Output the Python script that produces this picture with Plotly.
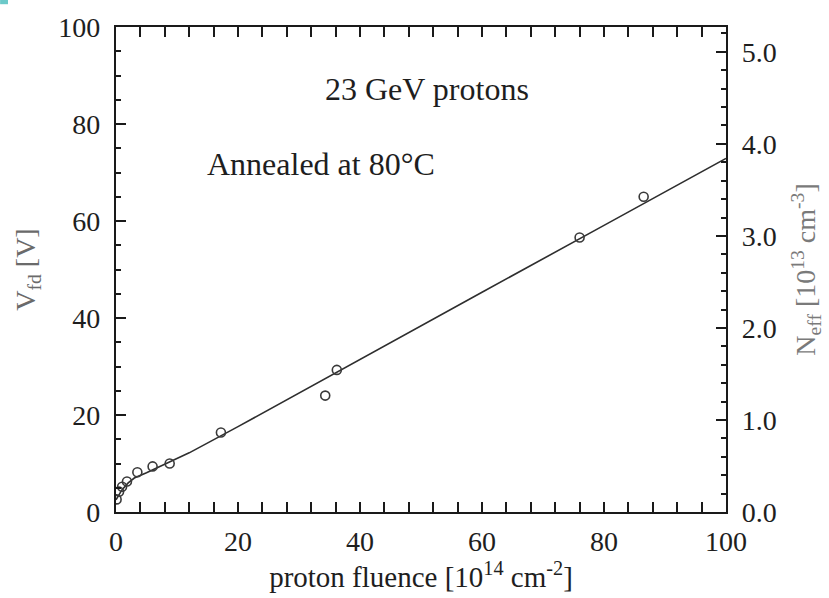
import plotly.graph_objects as go

# Measured depletion voltage vs. proton fluence
fluence = [0.1, 0.5, 1.0, 1.8, 3.5, 6.0, 8.8, 17.2, 34.3, 36.2, 76.0, 86.5]
vfd = [2.6, 4.2, 5.2, 6.3, 8.2, 9.4, 10.0, 16.4, 24.0, 29.3, 56.6, 65.0]

# Fitted curve through the measurements
fit_x = [0, 1, 2, 3, 5, 8, 12, 20, 40, 60, 80, 100]
fit_y = [2.5, 4.6, 6.0, 7.0, 8.1, 9.8, 12.2, 17.6, 31.5, 45.3, 59.1, 72.9]

# Axis ranges (left: V_fd in V, right: N_eff in 1e13 cm^-3)
x_range = [0, 100]
y_range = [0, 100]
y2_range = [0, 5.27]

FONT = "Liberation Serif"
INK = "#1e1e1e"

fig = go.Figure()

fig.add_trace(go.Scatter(
    x=fit_x, y=fit_y, mode="lines",
    line=dict(color="#2e2e2e", width=1.6),
    showlegend=False, hoverinfo="skip",
))
fig.add_trace(go.Scatter(
    x=fluence, y=vfd, mode="markers",
    marker=dict(symbol="circle-open", size=9, color="#3a3a3a",
                line=dict(width=1.6, color="#3a3a3a")),
    showlegend=False,
))
# carrier trace so the right-hand axis is laid out
fig.add_trace(go.Scatter(
    x=[None], y=[None], yaxis="y2", mode="markers",
    showlegend=False, hoverinfo="skip",
))

axis_common = dict(
    showline=True, linecolor="#1a1a1a", linewidth=2.2,
    ticks="inside", ticklen=10, tickwidth=2.2, tickcolor="#1a1a1a",
    showgrid=False, zeroline=False,
    tickfont=dict(family=FONT, size=28, color=INK),
)

fig.update_layout(
    width=829, height=598,
    margin=dict(l=116, r=103, t=27, b=86),
    paper_bgcolor="white", plot_bgcolor="white",
    xaxis=dict(
        range=x_range, dtick=20, mirror="allticks",
        minor=dict(dtick=4, ticks="inside", ticklen=5, tickwidth=2,
                   tickcolor="#1a1a1a", showgrid=False),
        title=dict(text="proton fluence [10<sup>14</sup> cm<sup>-2</sup>]",
                   font=dict(family=FONT, size=29, color=INK), standoff=4),
        ticklabelstandoff=3,
        **axis_common,
    ),
    yaxis=dict(
        range=y_range, dtick=20,
        minor=dict(dtick=5, ticks="inside", ticklen=5, tickwidth=2,
                   tickcolor="#1a1a1a", showgrid=False),
        title=dict(text="V<sub>fd</sub> [V]",
                   font=dict(family=FONT, size=28, color="#6a6a6a"), standoff=14),
        ticklabelstandoff=8,
        **axis_common,
    ),
    yaxis2=dict(
        range=y2_range, dtick=1, tickformat=".1f",
        overlaying="y", side="right",
        minor=dict(dtick=0.2, ticks="inside", ticklen=5, tickwidth=2,
                   tickcolor="#1a1a1a", showgrid=False),
        title=dict(text="N<sub>eff</sub> [10<sup>13</sup> cm<sup>-3</sup>]",
                   font=dict(family=FONT, size=28, color="#7a7a7a"), standoff=20),
        ticklabelstandoff=8,
        **axis_common,
    ),
    annotations=[
        dict(text="23 GeV protons", x=0.340, y=0.872, xref="paper", yref="paper",
             xanchor="left", yanchor="middle", showarrow=False,
             font=dict(family=FONT, size=32, color=INK)),
        dict(text="Annealed at 80°C", x=0.146, y=0.718, xref="paper", yref="paper",
             xanchor="left", yanchor="middle", showarrow=False,
             font=dict(family=FONT, size=32, color=INK)),
    ],
    shapes=[
        dict(type="rect", xref="paper", yref="paper",
             x0=-0.19, x1=-0.177, y0=1.047, y1=1.056,
             fillcolor="#6cc9c9", line=dict(width=0)),
    ],
)

fig.write_html("out.html")
